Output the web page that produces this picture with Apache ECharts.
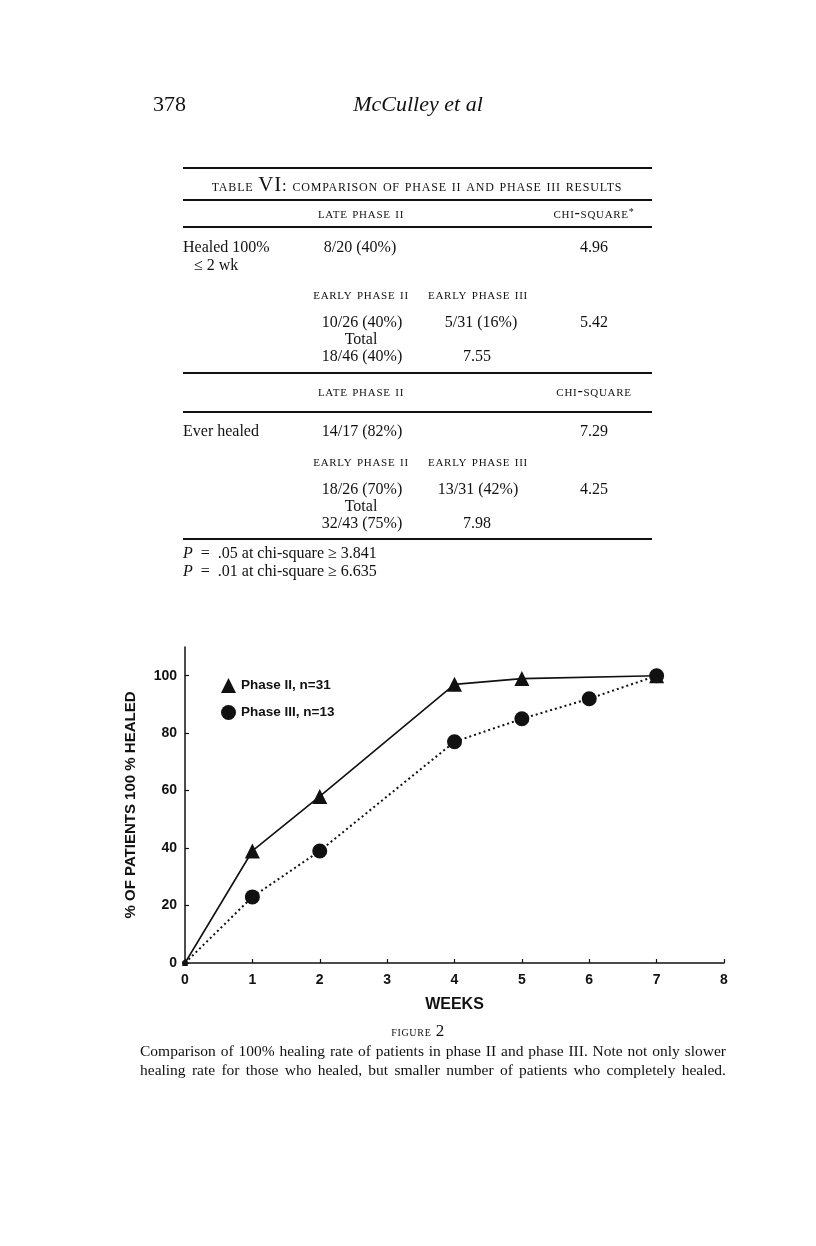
<!DOCTYPE html>
<html>
<head>
<meta charset="utf-8">
<script src="https://cdn.jsdelivr.net/npm/echarts@6/dist/echarts.min.js"></script>
<style>
  html, body { margin:0; padding:0; background:#fff; }
  #page { position:relative; width:816px; height:1246px; overflow:hidden; }
  #chart { position:absolute; left:0; top:0; width:816px; height:1246px; }
  .t { position:absolute; font-family:"Liberation Serif","Times New Roman",serif; color:#111; white-space:nowrap; z-index:2; }
  .c { transform:translate(-50%,-50%); }
  .l { transform:translateY(-50%); }
  .sc { font-variant:small-caps; letter-spacing:0.7px; font-size:16px; }
  .body { font-size:16px; }
  .rule { position:absolute; left:183px; width:469px; background:#111; z-index:2; }
  .cap { position:absolute; left:140px; width:586px; font-family:"Liberation Serif","Times New Roman",serif; font-size:15.5px; color:#111; text-align:justify; text-align-last:justify; z-index:2; line-height:19px; }
</style>
</head>
<body>
<div id="page">
  <div id="chart"></div>

  <div class="t l" style="left:153px;top:104px;font-size:22px;">378</div>
  <div class="t c" style="left:418px;top:104px;font-size:22px;font-style:italic;">McCulley et al</div>

  <div class="rule" style="top:167px;height:2px;"></div>
  <div class="t c sc" style="left:417px;top:184px;font-size:16.5px;letter-spacing:0.8px;">table <span style="font-size:21px;">VI</span>: comparison of phase ii and phase iii results</div>
  <div class="rule" style="top:199px;height:1.5px;"></div>
  <div class="t c sc" style="left:361px;top:213px;">late phase ii</div>
  <div class="t c sc" style="left:594px;top:213px;">chi-square<span style="font-size:10px;vertical-align:3px;">*</span></div>
  <div class="rule" style="top:226px;height:1.5px;"></div>

  <div class="t l body" style="left:183px;top:247px;">Healed 100%</div>
  <div class="t l body" style="left:194px;top:265px;">≤ 2 wk</div>
  <div class="t c body" style="left:360px;top:247px;">8/20 (40%)</div>
  <div class="t c body" style="left:594px;top:247px;">4.96</div>
  <div class="t c sc" style="left:361px;top:294px;">early phase ii</div>
  <div class="t c sc" style="left:478px;top:294px;">early phase iii</div>
  <div class="t c body" style="left:362px;top:322px;">10/26 (40%)</div>
  <div class="t c body" style="left:481px;top:322px;">5/31 (16%)</div>
  <div class="t c body" style="left:594px;top:322px;">5.42</div>
  <div class="t c body" style="left:361px;top:339px;">Total</div>
  <div class="t c body" style="left:362px;top:356px;">18/46 (40%)</div>
  <div class="t c body" style="left:477px;top:356px;">7.55</div>
  <div class="rule" style="top:372px;height:1.5px;"></div>

  <div class="t c sc" style="left:361px;top:391px;">late phase ii</div>
  <div class="t c sc" style="left:594px;top:391px;">chi-square</div>
  <div class="rule" style="top:411px;height:1.5px;"></div>
  <div class="t l body" style="left:183px;top:431px;">Ever healed</div>
  <div class="t c body" style="left:362px;top:431px;">14/17 (82%)</div>
  <div class="t c body" style="left:594px;top:431px;">7.29</div>
  <div class="t c sc" style="left:361px;top:461px;">early phase ii</div>
  <div class="t c sc" style="left:478px;top:461px;">early phase iii</div>
  <div class="t c body" style="left:362px;top:489px;">18/26 (70%)</div>
  <div class="t c body" style="left:478px;top:489px;">13/31 (42%)</div>
  <div class="t c body" style="left:594px;top:489px;">4.25</div>
  <div class="t c body" style="left:361px;top:506px;">Total</div>
  <div class="t c body" style="left:362px;top:523px;">32/43 (75%)</div>
  <div class="t c body" style="left:477px;top:523px;">7.98</div>
  <div class="rule" style="top:538px;height:2px;"></div>
  <div class="t l body" style="left:183px;top:553px;"><i>P</i>&nbsp; = &nbsp;.05 at chi-square ≥ 3.841</div>
  <div class="t l body" style="left:183px;top:571px;"><i>P</i>&nbsp; = &nbsp;.01 at chi-square ≥ 6.635</div>

  <div class="t c sc" style="left:418px;top:1031px;font-size:14px;">figure <span style="font-size:17px;">2</span></div>
  <div class="cap" style="top:1041px;">Comparison of 100% healing rate of patients in phase II and phase III. Note not only slower</div>
  <div class="cap" style="top:1060px;">healing rate for those who healed, but smaller number of patients who completely healed.</div>
</div>

<script>
// ---- data ----
const seriesNames = ['Phase II, n=31', 'Phase III, n=13'];
const phase2Weeks = [0, 1, 2, 4, 5, 7];
const phase2Values = [0, 39, 58, 97, 99, 100];
const phase3Weeks = [0, 1, 2, 4, 5, 6, 7];
const phase3Values = [0, 23, 39, 77, 85, 92, 100];
const xTicks = [0, 1, 2, 3, 4, 5, 6, 7, 8];
const yTicks = [0, 20, 40, 60, 80, 100];

const pairs = (xs, ys) => xs.map((x, i) => [x, ys[i]]);

const chart = echarts.init(document.getElementById('chart'), null, { renderer: 'canvas' });
const axisFont = { fontFamily: '"Liberation Sans", Arial, sans-serif', fontWeight: 'bold', color: '#111' };

chart.setOption({
  animation: false,
  backgroundColor: 'transparent',
  grid: { left: 185, right: 92, top: 647, bottom: 283, containLabel: false },
  legend: {
    orient: 'vertical',
    left: 216,
    top: 673,
    itemGap: 12,
    itemWidth: 15,
    itemHeight: 15,
    textStyle: Object.assign({}, axisFont, { fontSize: 13.5 }),
    data: [
      { name: seriesNames[0], icon: 'triangle' },
      { name: seriesNames[1], icon: 'circle' }
    ]
  },
  xAxis: {
    type: 'value',
    min: 0, max: 8, interval: 1,
    name: 'WEEKS',
    nameLocation: 'middle',
    nameGap: 34,
    nameTextStyle: Object.assign({}, axisFont, { fontSize: 16 }),
    axisLine: { lineStyle: { color: '#111', width: 1.5 } },
    axisTick: { inside: true, length: 4, lineStyle: { color: '#111', width: 1.2 }, customValues: xTicks },
    axisLabel: Object.assign({}, axisFont, { fontSize: 14, margin: 10, customValues: xTicks }),
    splitLine: { show: false }
  },
  yAxis: {
    type: 'value',
    min: 0, max: 110, interval: 20,
    name: '% OF PATIENTS 100 % HEALED',
    nameLocation: 'middle',
    nameRotate: 90,
    nameGap: 47,
    nameTextStyle: Object.assign({}, axisFont, { fontSize: 15 }),
    axisLine: { show: true, lineStyle: { color: '#111', width: 1.5 } },
    axisTick: { show: true, inside: true, length: 4, lineStyle: { color: '#111', width: 1.2 }, customValues: yTicks },
    axisLabel: Object.assign({}, axisFont, { fontSize: 14, margin: 8, customValues: yTicks }),
    splitLine: { show: false }
  },
  series: [
    {
      name: seriesNames[0],
      type: 'line',
      data: pairs(phase2Weeks, phase2Values),
      symbol: 'triangle',
      symbolSize: (v) => v[0] === 0 ? 6 : 15,
      lineStyle: { color: '#111', width: 1.6, type: 'solid' },
      itemStyle: { color: '#111' },
      z: 2
    },
    {
      name: seriesNames[1],
      type: 'line',
      data: pairs(phase3Weeks, phase3Values),
      symbol: 'circle',
      symbolSize: (v) => v[0] === 0 ? 6 : 15,
      lineStyle: { color: '#111', width: 2, type: [2, 3] },
      itemStyle: { color: '#111' },
      z: 3
    }
  ]
});
</script>
</body>
</html>
